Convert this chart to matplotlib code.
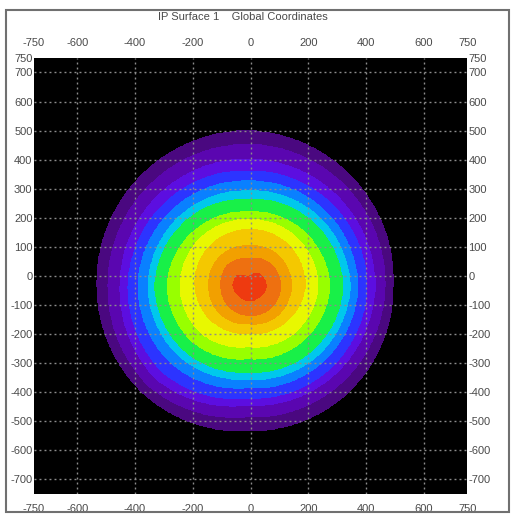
import numpy as np
import matplotlib
matplotlib.use("Agg")
import matplotlib.pyplot as plt
from matplotlib.patches import Rectangle

plt.rcParams['font.family'] = ['Liberation Sans', 'DejaVu Sans']
plt.rcParams['axes.unicode_minus'] = False

# spot centre (data units) and directions the band edges were read along
center_x, center_y = -10, -35
directions = [0, 45, 90, 135, 180, 225, 270, 315]  # E, NE, N, NW, W, SW, S, SE

# outer edge radius of every band, inner (hot) band first
r_red      = [65, 58, 30, 52, 50, 45, 48, 55]
r_dkorange = [115, 110, 95, 100, 92, 95, 100, 110]
r_orange   = [152, 150, 140, 140, 135, 135, 130, 145]
r_gold     = [199, 200, 195, 190, 182, 172, 162, 180]
r_yellow   = [244, 238, 229, 232, 234, 228, 208, 228]
r_yelgreen = [285, 270, 255, 265, 279, 270, 250, 268]
r_green    = [330, 315, 298, 310, 321, 312, 295, 314]
r_cyan     = [355, 342, 327, 336, 345, 338, 320, 340]
r_azure    = [382, 372, 361, 370, 380, 375, 350, 368]
r_blue     = [414, 405, 396, 405, 414, 418, 385, 402]
r_violet   = [441, 438, 436, 440, 442, 450, 410, 428]
r_purple   = [476, 482, 488, 486, 484, 485, 450, 465]
r_dkpurple = [504, 520, 535, 530, 522, 517, 498, 505]

band_radii = [r_dkpurple, r_purple, r_violet, r_blue, r_azure, r_cyan, r_green,
              r_yelgreen, r_yellow, r_gold, r_orange, r_dkorange, r_red]
band_colors = ['#4a0880', '#5a06b0', '#5c0ee0', '#2c34ff', '#0a80ff', '#00c8ec',
               '#18f048', '#98ff00', '#e8f800', '#f4c800', '#f2a000', '#ee7010', '#ee3a10']

xticks = [-750, -600, -400, -200, 0, 200, 400, 600, 750]
yticks = [750, 700, 600, 500, 400, 300, 200, 100, 0, -100, -200, -300, -400,
          -500, -600, -700]
title = "IP Surface 1    Global Coordinates"

# build the banded field
xs = np.linspace(-750, 750, 751)
X, Y = np.meshgrid(xs, xs)
dx, dy = X - center_x, Y - center_y
r = np.hypot(dx, dy)
th = np.degrees(np.arctan2(dy, dx)) % 360
band = np.zeros_like(r)
for radii in band_radii:
    band += (r < np.interp(th, directions, radii, period=360))

fig = plt.figure(figsize=(5.22, 5.23), dpi=100)
ax = fig.add_axes([0.065, 0.0555, 0.830, 0.8337])
ax.set_facecolor('black')
ax.contourf(X, Y, band, levels=np.arange(0.5, len(band_radii) + 1), colors=band_colors)

ax.set_xlim(-750, 750)
ax.set_ylim(-750, 750)
ax.set_xticks(xticks)
ax.set_yticks(yticks)
ax.tick_params(axis='both', length=0, labelsize=8, colors='#4a4a4a',
               top=True, labeltop=True, right=True, labelright=True)
ax.tick_params(axis='x', pad=7)
ax.tick_params(axis='y', pad=1)
for s in ax.spines.values():
    s.set_visible(False)

# dotted grid, not on the outer edges
for v in xticks[1:-1]:
    ax.axvline(v, color='#8c8c8c', ls=(0, (1.4, 2.2)), lw=1.0)
for v in yticks[1:]:
    ax.axhline(v, color='#8c8c8c', ls=(0, (1.4, 2.2)), lw=1.0)

fig.text(0.465, 0.968, title, ha='center', va='center', fontsize=8, color='#4a4a4a')
fig.patches.append(Rectangle((6 / 522, 11 / 523), 503 / 522, 502 / 523,
                             transform=fig.transFigure, fill=False,
                             ec='#707070', lw=1.5))

fig.savefig('out.png', dpi=100)
